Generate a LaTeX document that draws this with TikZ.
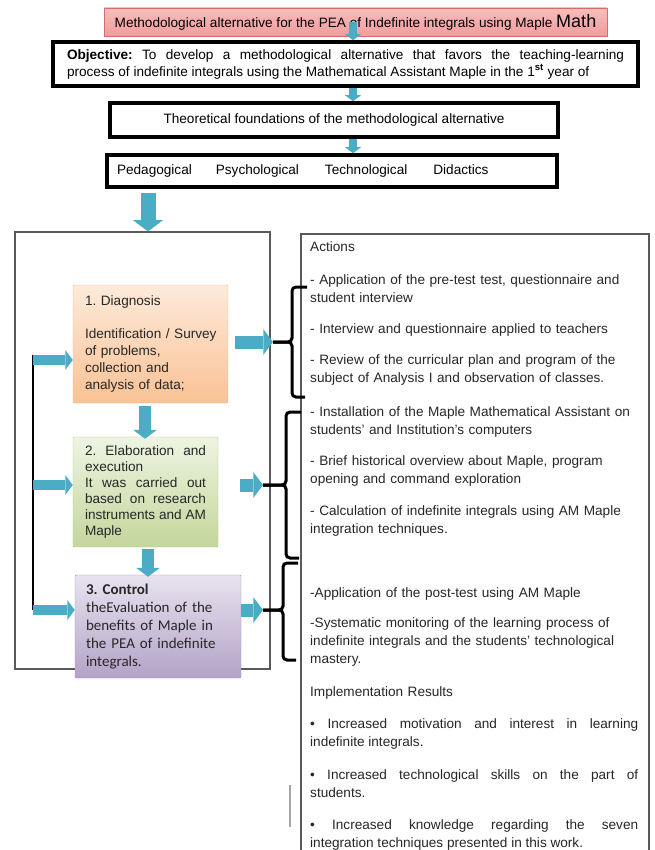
\documentclass[tikz,border=0pt]{standalone}
\usepackage{fontspec}
\setmainfont{Liberation Sans}
\newfontfamily\calibri{Carlito}
\usetikzlibrary{arrows.meta, positioning, calc}
\frenchspacing
\definecolor{ArrowBlue}{HTML}{4BACC6}
\definecolor{TitleTop}{HTML}{F8BDBD}
\definecolor{TitleBot}{HTML}{F19C9C}
\definecolor{TitleEdge}{HTML}{D96A6A}
\definecolor{PeachTop}{HTML}{FDEADA}
\definecolor{PeachBot}{HTML}{F9C295}
\definecolor{PeachEdge}{HTML}{F5B888}
\definecolor{LeafTop}{HTML}{EEF4E2}
\definecolor{LeafBot}{HTML}{C3D69B}
\definecolor{LeafEdge}{HTML}{B5CB88}
\definecolor{LilacTop}{HTML}{E8E3EF}
\definecolor{LilacBot}{HTML}{B3A2C7}
\definecolor{LilacEdge}{HTML}{A28FBF}
\definecolor{FrameGray}{HTML}{595959}
\definecolor{InkGray}{HTML}{262626}
\tikzset{
  titlebox/.style={draw=TitleEdge, thin, top color=TitleTop, bottom color=TitleBot, minimum width=503pt, minimum height=28pt, inner sep=0pt},
  blackbox/.style={draw=black, line width=3.5pt, fill=white, inner xsep=14pt, inner ysep=0pt},
  phasebox/.style={thin, rounded corners=1pt, align=left, inner xsep=12pt, text=InkGray},
  frame/.style={draw=FrameGray, line width=1.2pt},
  flow/.style={draw=ArrowBlue, line width=#1, -{Triangle[length=0pt 0.75, width=0pt 2, line width=0pt]}},
  bracket/.style={line width=3pt, rounded corners=4pt},
  loopline/.style={line width=2.5pt},
  acttext/.style={anchor=base west, inner sep=0pt, text width=328pt, align=left, text=InkGray, font=\fontsize{13.6}{18}\selectfont}
}
\begin{document}
\begin{tikzpicture}[x=1pt, y=-1pt, font=\fontsize{13.6}{17}\selectfont]
\useasboundingbox (0,0) rectangle (654,850);
\clip (0,0) rectangle (654,850);

% heading boxes
\node[titlebox] (title) at (355.5,22) {Methodological alternative for the PEA of Indefinite integrals using Maple {\fontsize{18}{18}\selectfont Math}};
\node[blackbox, minimum width=585pt, minimum height=44pt, text width=557pt, align=justify] (objective) at (345.5,64)
  {\parfillskip=0pt \textbf{Objective:} To develop a methodological alternative that favors the teaching-learning\linebreak process of indefinite integrals using the Mathematical Assistant Maple in the 1\textsuperscript{\bfseries st} year of};
\node[blackbox, minimum width=448pt, minimum height=34pt] (theo) at (334,120) {Theoretical foundations of the methodological alternative};
\node[blackbox, minimum width=450pt, minimum height=32pt, text width=430pt, inner xsep=10pt, align=left] (ped) at (332,171)
  {Pedagogical\hspace{24pt}Psychological\hspace{26pt}Technological\hspace{26pt}Didactics};

\coordinate (spine) at (353,0);
\draw[flow=8pt] (title -| spine) -- (objective.north -| spine);
\draw[flow=8pt] (objective.south -| spine) -- (theo.north -| spine);
\draw[flow=8pt] (theo.south -| spine) -- (ped.north -| spine);

% the three phases
\node[frame, minimum width=255pt, minimum height=437pt] (phases) at (142.5,450.5) {};
\node[frame, line width=1.8pt, minimum width=348pt, minimum height=640pt, anchor=north west] (actions) at (300,233) {};

\coordinate (feed) at (148,193);
\draw[flow=15pt] (feed) -- (feed |- phases.north);

\node[phasebox, draw=PeachEdge, top color=PeachTop, bottom color=PeachBot, minimum height=118pt, text width=131pt] (diag) at (150.5,344)
  {1. Diagnosis\\[15.5pt]\mbox{Identification / Survey}\\of problems,\\collection and\\analysis of data;};
\node[phasebox, draw=LeafEdge, top color=LeafTop, bottom color=LeafBot, minimum height=110pt, text width=121pt, align=justify, font=\fontsize{13.6}{16}\selectfont] (elab) at (145.5,492)
  {2. Elaboration and\linebreak execution\newline It was carried out\linebreak based on research\linebreak instruments and AM\linebreak Maple};
\node[phasebox, draw=LilacEdge, top color=LilacTop, bottom color=LilacBot, minimum height=103pt, text width=144pt, inner xsep=11pt, font=\calibri\fontsize{15}{18}\selectfont] (ctrl) at (158,626.5)
  {\textbf{3. Control}\\theEvaluation of the\\benefits of Maple in\\the PEA of indefinite\\integrals.};

\draw[flow=12pt, shorten <=3pt, shorten >=-2pt] ([xshift=-5.5pt]diag.south) -- ([xshift=-5.5pt]diag.south |- elab.north);
\draw[flow=12pt, shorten <=2pt, shorten >=-2pt] ([xshift=2.5pt]elab.south) -- ([xshift=2.5pt]elab.south |- ctrl.north);

% feedback line on the left
\coordinate (fb1) at (33,360);
\coordinate (fb2) at (33,485);
\coordinate (fb3) at (33,610);
\draw[loopline] ([yshift=5pt]fb1) -- (fb3);
\draw[flow=10pt] (fb1) -- (fb1 -| diag.west);
\draw[flow=10pt] (fb2) -- (fb2 -| elab.west);
\draw[flow=10pt] (fb3) -- (fb3 -| ctrl.west);

% braces towards the actions
\foreach \ytop/\ymid/\ybot/\xv/\xtip [count=\i] in {287/342/397/292/273, 412/485/558/286/263, 563/610/660/283/263}
{
  \coordinate (tip\i) at (\xtip,\ymid);
  \draw[bracket] (\xv+15,\ytop) -- (\xv,\ytop) -- (\xv,\ymid) -- (tip\i);
  \draw[bracket] (\xv+13,\ybot) -- (\xv,\ybot) -- (\xv,\ymid) -- (tip\i);
}
\draw[flow=13pt, shorten <=7pt] (tip1 -| diag.east) -- (tip1);
\draw[flow=13pt, shorten <=22pt] (tip2 -| elab.east) -- (tip2);
\draw[flow=13pt] (tip3 -| ctrl.east) -- (tip3);

% actions and results
\foreach \y/\txt [count=\i] in {
251/{Actions},
284/{- Application of the pre-test test, questionnaire and\\student interview},
333/{- Interview and questionnaire applied to teachers},
364/{- Review of the curricular plan and program of the\\subject of Analysis I and observation of classes.},
416/{- Installation of the Maple Mathematical Assistant on\\students' and Institution's computers},
465/{- Brief historical overview about Maple, program\\opening and command exploration},
515/{- Calculation of indefinite integrals using AM Maple\\integration techniques.},
597/{-Application of the post-test using AM Maple},
627/{-Systematic monitoring of the learning process of\\indefinite integrals and the students' technological\\mastery.},
696/{Implementation Results}}
{
  \node[acttext] (act\i) at (310,\y) {\txt};
}
\node[acttext, align=justify] (res1) at (310,728) {\textbullet{} Increased motivation and interest in learning\linebreak indefinite integrals.};
\node[acttext, align=justify] (res2) at (310,779) {\textbullet{} Increased technological skills on the part of\linebreak students.};
\node[acttext, align=justify] (res3) at (310,829) {\textbullet{} Increased knowledge regarding the seven\linebreak integration techniques presented in this work.};

\draw[gray!70, line width=1.2pt] (290,785) -- (290,827);
\end{tikzpicture}
\end{document}
